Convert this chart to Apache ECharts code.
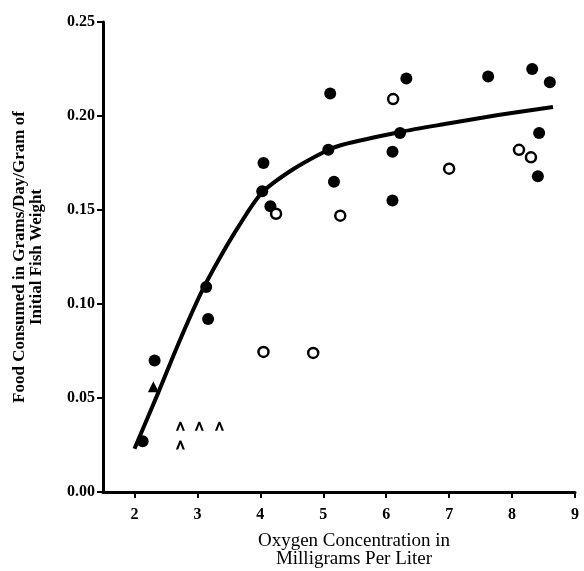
<!DOCTYPE html>
<html>
<head>
<meta charset="utf-8">
<script src="https://cdn.jsdelivr.net/npm/echarts@6/dist/echarts.min.js"></script>
<style>
  html, body { margin: 0; padding: 0; background: #fff; }
  #chart { width: 584px; height: 571px; }
</style>
</head>
<body>
<div id="chart"></div>
<script>
// solid dots [oxygen, food]
const filledPoints = [
  [2.13, 0.027], [2.32, 0.070], [3.14, 0.109], [3.17, 0.092],
  [4.05, 0.175], [4.03, 0.160], [4.16, 0.152],
  [5.11, 0.212], [5.08, 0.182], [5.17, 0.165],
  [6.10, 0.181], [6.10, 0.155], [6.22, 0.191], [6.32, 0.220],
  [7.62, 0.221], [8.32, 0.225], [8.60, 0.218], [8.43, 0.191], [8.41, 0.168]
];
// open circles
const openPoints = [
  [4.25, 0.148], [4.05, 0.0745], [4.84, 0.074], [5.27, 0.147],
  [6.11, 0.209], [7.00, 0.172], [8.11, 0.182], [8.30, 0.178]
];
const trianglePoints = [[2.30, 0.056]];
const caretPoints = [[2.73, 0.035], [3.03, 0.035], [3.35, 0.035], [2.73, 0.025]];
// fitted curve
const curvePoints = [
  [2.0, 0.023], [2.38, 0.053], [2.70, 0.079], [3.06, 0.106], [3.33, 0.123],
  [3.65, 0.141], [4.02, 0.159], [4.49, 0.171], [5.02, 0.181], [5.29, 0.1846],
  [6.22, 0.1915], [6.98, 0.196], [7.78, 0.2005], [8.65, 0.2048]
];
const xTicks = [2, 3, 4, 5, 6, 7, 8, 9];

const font = "'Liberation Serif', 'DejaVu Serif', serif";
const chart = echarts.init(document.getElementById("chart"));

const option = {
  animation: false,
  backgroundColor: "#fff",
  grid: { left: 103, right: 9, top: 22, bottom: 79, outerBoundsMode: "none" },
  xAxis: {
    type: "value",
    min: 1.5,
    max: 9,
    name: "Oxygen Concentration in\nMilligrams Per Liter",
    nameLocation: "middle",
    nameGap: 40,
    nameTextStyle: {
      fontFamily: font, fontSize: 19, color: "#000", lineHeight: 18,
      padding: [0, 0, 0, 30]
    },
    axisLine: { lineStyle: { color: "#000", width: 3 } },
    axisTick: { customValues: xTicks, length: 6, lineStyle: { color: "#000", width: 2 } },
    axisLabel: {
      customValues: xTicks, margin: 15,
      fontFamily: font, fontSize: 16, fontWeight: "bold", color: "#000"
    },
    splitLine: { show: false }
  },
  yAxis: {
    type: "value",
    min: 0,
    max: 0.25,
    interval: 0.05,
    name: "Food Consumed in Grams/Day/Gram of\nInitial Fish Weight",
    nameLocation: "middle",
    nameGap: 58,
    nameTextStyle: {
      fontFamily: font, fontSize: 17, fontWeight: "bold", color: "#000", lineHeight: 17
    },
    axisLine: { lineStyle: { color: "#000", width: 3 } },
    axisTick: { length: 6, lineStyle: { color: "#000", width: 2 } },
    axisLabel: {
      margin: 8,
      fontFamily: font, fontSize: 16, fontWeight: "bold", color: "#000",
      formatter: (v) => v.toFixed(2)
    },
    splitLine: { show: false }
  },
  series: [
    {
      type: "line",
      data: curvePoints,
      smooth: 0.3,
      showSymbol: false,
      lineStyle: { color: "#000", width: 4 },
      z: 1
    },
    {
      type: "scatter",
      data: filledPoints,
      symbol: "circle",
      symbolSize: 12,
      itemStyle: { color: "#000", opacity: 1 },
      z: 3
    },
    {
      type: "scatter",
      data: openPoints,
      symbol: "circle",
      symbolSize: 10,
      itemStyle: { color: "#fff", borderColor: "#000", borderWidth: 2.5, opacity: 1 },
      z: 3
    },
    {
      type: "scatter",
      data: trianglePoints,
      symbol: "triangle",
      symbolSize: 11,
      itemStyle: { color: "#000", opacity: 1 },
      z: 3
    },
    {
      type: "scatter",
      data: caretPoints,
      symbol: "path://M0,10 L4,0 L6,0 L10,10 L7.5,10 L5,3.5 L2.5,10 Z",
      symbolSize: [9, 9],
      itemStyle: { color: "#000", opacity: 1 },
      z: 3
    }
  ]
};

chart.setOption(option);
</script>
</body>
</html>
